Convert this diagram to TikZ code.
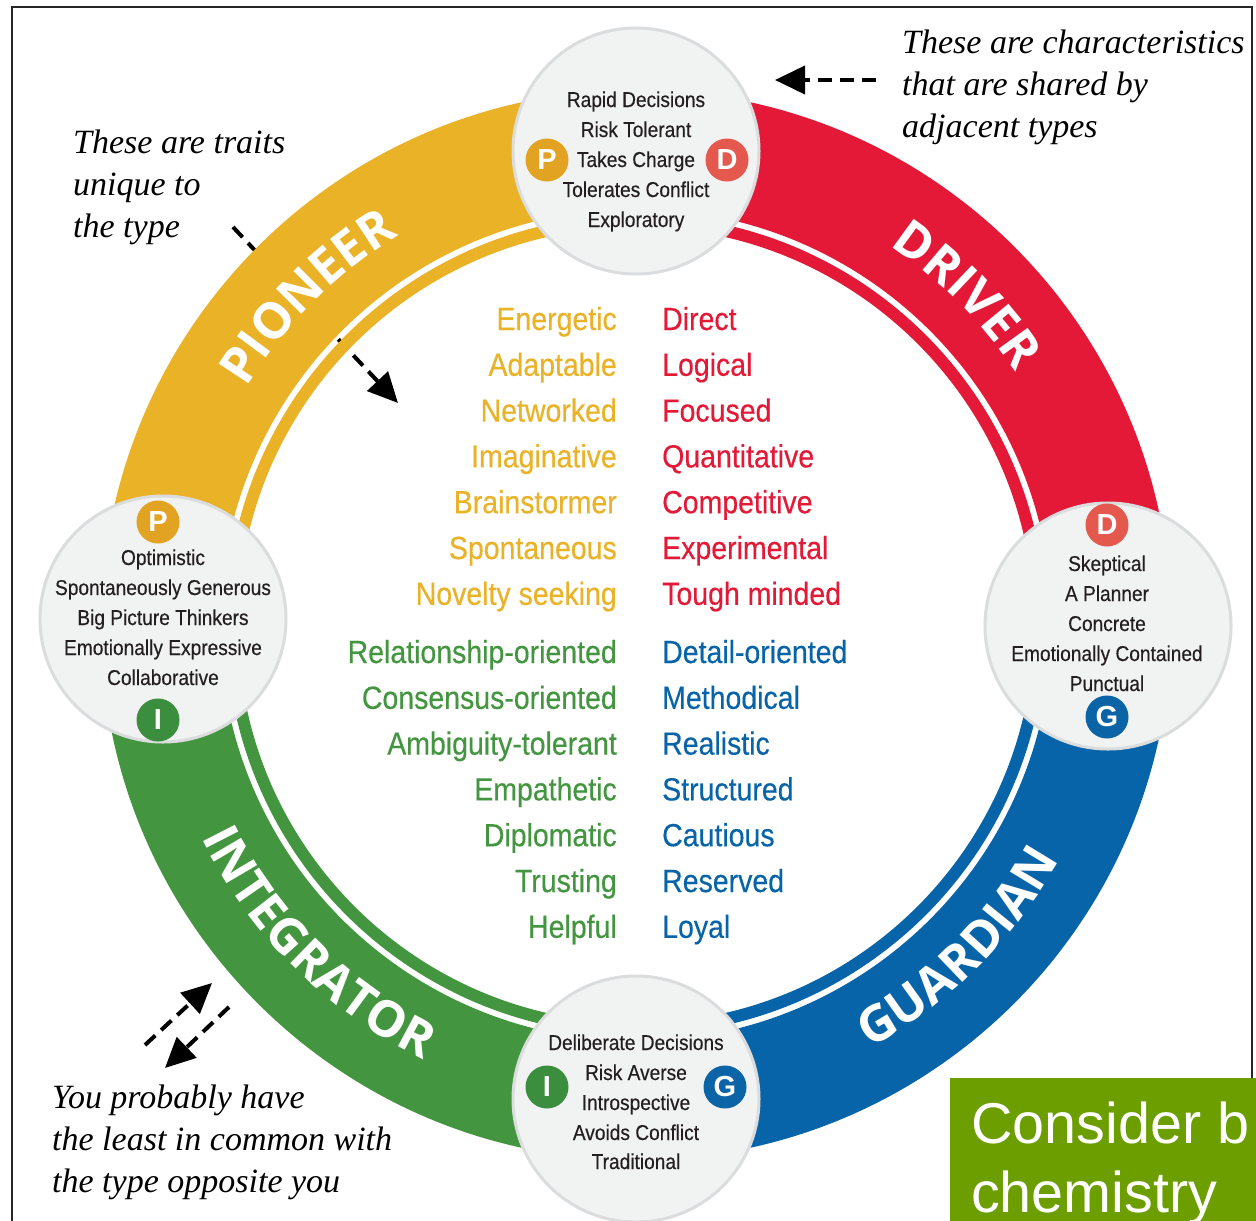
\documentclass[tikz,border=0pt]{standalone}
\usepackage{fontspec}
\setmainfont{Liberation Serif}
\newfontfamily\narrowfont[FakeStretch=0.89,FakeBold=0.35]{Liberation Sans}
\newfontfamily\ringfont{Open Sans}
\newfontfamily\boxfont{Liberation Sans}
\usetikzlibrary{arrows.meta,decorations.text}

\definecolor{pioneer}{RGB}{234,178,38}
\definecolor{driver}{RGB}{227,25,55}
\definecolor{guardian}{RGB}{8,100,168}
\definecolor{integrator}{RGB}{67,150,63}
\definecolor{badgeP}{RGB}{226,163,35}
\definecolor{badgeD}{RGB}{228,88,78}
\definecolor{badgeG}{RGB}{10,100,166}
\definecolor{badgeI}{RGB}{60,142,63}
\definecolor{bubblefill}{RGB}{241,242,242}
\definecolor{bubbleedge}{RGB}{218,220,222}
\definecolor{boxgreen}{RGB}{108,158,0}
\definecolor{ink}{RGB}{35,31,32}

\newcommand\ringlabelfont{\ringfont\bfseries\fontsize{50}{50}\selectfont}

\tikzset{
  trait/.style={inner sep=0pt, font=\narrowfont\fontsize{32}{32}\selectfont},
  bubtext/.style={inner sep=0pt, anchor=base, text=ink, font=\narrowfont\fontsize{21.5}{21.5}\selectfont},
  bubble/.style={circle, minimum size=246pt, inner sep=0pt, fill=bubblefill, draw=bubbleedge, line width=3pt},
  badge/.style={circle, minimum size=43pt, inner sep=0pt, text=white, font=\boxfont\bfseries\fontsize{29}{29}\selectfont},
  note/.style={inner sep=0pt, anchor=base west, text=black, font=\itshape\fontsize{34}{42}\selectfont},
  noteArrow/.style={draw=black, line width=4pt, dash pattern=on 14pt off 8pt, -{Triangle[length=30pt,width=28pt]}},
  ringlabel/.style={decorate, decoration={text along path, text align=center, text color=white, text={|\ringlabelfont|#1}}}
}

\begin{document}
\begin{tikzpicture}[x=1pt,y=1pt]
\useasboundingbox (0,0) rectangle (1256,-1221);
\begin{scope}
\clip (0,0) rectangle (1256,-1221);
\fill[white] (0,0) rectangle (1256,-1221);

% outer frame
\draw[line width=2pt, black!85] (12,-1230) -- (12,-7) -- (1252,-7) -- (1252,-1230);

% dashed pointer that passes beneath the ring
\coordinate (uniqS) at (233,-227);
\coordinate (uniqE) at (398,-403);
\draw[noteArrow] (uniqS) -- (uniqE);

% ring of four types
\begin{scope}[shift={(636,-625)}]
  \foreach \a/\col in {90/pioneer, 0/driver, -90/guardian, -180/integrator} {
    \fill[\col] (\a:535) arc[start angle=\a, end angle=\a+90, radius=535]
      -- ({\a+90}:416) arc[start angle=\a+90, end angle=\a, radius=416] -- cycle;
    \fill[\col] (\a:410) arc[start angle=\a, end angle=\a+90, radius=410]
      -- ({\a+90}:398) arc[start angle=\a+90, end angle=\a, radius=398] -- cycle;
  }
  \path[ringlabel=PIONEER] (175:456) arc[start angle=175, end angle=95, radius=456];
  \path[ringlabel=DRIVER] (85:456) arc[start angle=85, end angle=5, radius=456];
  \path[ringlabel=GUARDIAN] (-85:484) arc[start angle=-85, end angle=-5, radius=484];
  \path[ringlabel=INTEGRATOR] (185:484) arc[start angle=185, end angle=265, radius=484];
\end{scope}

% bubbles with shared traits
\node[bubble] (btop) at (636,-151) {};
\node[bubble] (bleft) at (163,-619) {};
\node[bubble] (bright) at (1108,-626) {};
\node[bubble] (bbottom) at (636,-1099) {};

\node[badge, fill=badgeP] (topP) at (547,-160) {P};
\node[badge, fill=badgeD] (topD) at (727,-160) {D};
\node[badge, fill=badgeP] (leftP) at (158,-522) {P};
\node[badge, fill=badgeI] (leftI) at (158,-720) {I};
\node[badge, fill=badgeD] (rightD) at (1107,-525) {D};
\node[badge, fill=badgeG] (rightG) at (1107,-717) {G};
\node[badge, fill=badgeI] (botI) at (547,-1087) {I};
\node[badge, fill=badgeG] (botG) at (725,-1087) {G};

\foreach [count=\i] \t/\y in {Rapid Decisions/107, Risk Tolerant/137, Takes Charge/167, Tolerates Conflict/197, Exploratory/227}
  \node[bubtext] (topt\i) at (636,-\y) {\t};
\foreach [count=\i] \t/\y in {Optimistic/565, Spontaneously Generous/595, Big Picture Thinkers/625, Emotionally Expressive/655, Collaborative/685}
  \node[bubtext] (leftt\i) at (163,-\y) {\t};
\foreach [count=\i] \t/\y in {Skeptical/571, A Planner/601, Concrete/631, Emotionally Contained/661, Punctual/691}
  \node[bubtext] (rightt\i) at (1107,-\y) {\t};
\foreach [count=\i] \t/\y in {Deliberate Decisions/1050, Risk Averse/1080, Introspective/1110, Avoids Conflict/1140, Traditional/1169}
  \node[bubtext] (bott\i) at (636,-\y) {\t};

% unique traits of each type
\foreach [count=\i] \t in {Energetic, Adaptable, Networked, Imaginative, Brainstormer, Spontaneous, Novelty seeking}
  \node[trait, text=pioneer, anchor=base east] (pio\i) at (617,{-(330+45.8*(\i-1))}) {\t};
\foreach [count=\i] \t in {Direct, Logical, Focused, Quantitative, Competitive, Experimental, Tough minded}
  \node[trait, text=driver, anchor=base west] (drv\i) at (662,{-(330+45.8*(\i-1))}) {\t};
\foreach [count=\i] \t in {Relationship-oriented, Consensus-oriented, Ambiguity-tolerant, Empathetic, Diplomatic, Trusting, Helpful}
  \node[trait, text=integrator, anchor=base east] (int\i) at (617,{-(663+45.8*(\i-1))}) {\t};
\foreach [count=\i] \t in {Detail-oriented, Methodical, Realistic, Structured, Cautious, Reserved, Loyal}
  \node[trait, text=guardian, anchor=base west] (grd\i) at (662,{-(663+45.8*(\i-1))}) {\t};

% explanatory notes
\node[note] (na1) at (73,-153) {These are traits};
\node[note] (na2) at (73,-195) {unique to};
\node[note] (na3) at (73,-237) {the type};

\node[note] (nb1) at (902,-53) {These are characteristics};
\node[note] (nb2) at (902,-95) {that are shared by};
\node[note] (nb3) at (902,-137) {adjacent types};

\node[note] (nc1) at (52,-1108) {You probably have};
\node[note] (nc2) at (52,-1150) {the least in common with};
\node[note] (nc3) at (52,-1192) {the type opposite you};

% dashed pointers
\coordinate (sharedS) at (876,-80);
\coordinate (sharedE) at (775,-80);
\draw[noteArrow] (sharedS) -- (sharedE);

\coordinate (oppAS) at (145,-1045);
\coordinate (oppAE) at (212,-983);
\coordinate (oppBS) at (229,-1007);
\coordinate (oppBE) at (165,-1068);
\draw[noteArrow] (oppAS) -- (oppAE);
\draw[noteArrow] (oppBS) -- (oppBE);

% green caption box
\fill[boxgreen] (950,-1078) rectangle (1270,-1240);
\node[inner sep=0pt, anchor=base west, text=white, font=\boxfont\fontsize{57.5}{69}\selectfont] (cap1) at (971,-1143) {Consider b};
\node[inner sep=0pt, anchor=base west, text=white, font=\boxfont\fontsize{57.5}{69}\selectfont] (cap2) at (971,-1212) {chemistry};
\end{scope}
\end{tikzpicture}
\end{document}
